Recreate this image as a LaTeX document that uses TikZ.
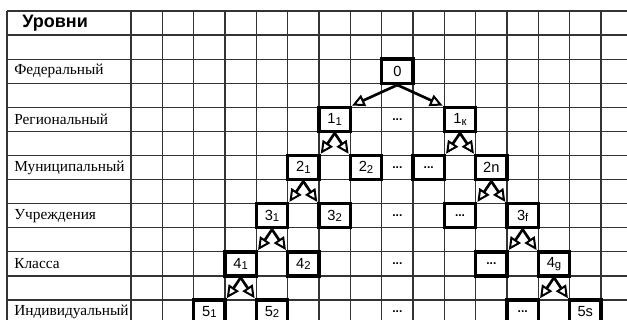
\documentclass[tikz,border=0pt]{standalone}
\usepackage{fontspec}
\setmainfont{Liberation Serif}
\setsansfont{Liberation Sans}
\usetikzlibrary{arrows.meta}
\newcommand{\ix}[1]{{\fontsize{8.5}{9}\selectfont\raisebox{-1pt}{#1}}}

\begin{document}
\begin{tikzpicture}[x=23.5pt, y=-18.06pt, line width=0.5pt,
  gridline/.style={black!80, line width=1pt},
  lvbox/.style={draw, fill=white, line width=2.6pt, minimum width=23.5pt, minimum height=18.06pt,
    inner sep=0pt, font=\sffamily\fontsize{11}{12}\selectfont},
  lvdots/.style={inner sep=0pt, font=\sffamily\bfseries\fontsize{9}{10}\selectfont},
  lvname/.style={anchor=west, inner sep=0pt, font=\fontsize{11.5}{13}\selectfont},
  lvarrow/.style={line width=2pt, -{Triangle[length=9.5pt, width=9pt, fill=white, line width=1.5pt]}}]
  \useasboundingbox (-4.181,-0.457) rectangle (15.83,12.83);
  % grid
  \foreach \r in {0,...,12}
    \draw[gridline] (-3.958,\r) -- (15.83,\r);
  \draw[gridline] (-3.958,0) -- (-3.958,12.83);
  \foreach \c in {0,...,15}
    \draw[gridline] (\c,0) -- (\c,12.83);
  % level names
  \node[lvname, font=\sffamily\bfseries\fontsize{13.5}{14}\selectfont] (head) at (-3.479,0.5) {Уровни};
  \node[lvname] (fed) at (-3.734,2.5) {Федеральный};
  \node[lvname] (reg) at (-3.734,4.5) {Региональный};
  \node[lvname] (mun) at (-3.734,6.5) {Муниципальный};
  \node[lvname] (uch) at (-3.734,8.5) {Учреждения};
  \node[lvname] (kls) at (-3.734,10.5) {Класса};
  \node[lvname] (ind) at (-3.734,12.5) {Индивидуальный};
  % dots column
  \foreach \r in {4,6,8,10,12}
    \node[lvdots] (dots\r) at (8.5,\r+0.5) {...};
  % boxes
  \node[lvbox] (lvl0) at (8.5,2.5) {0};
  \node[lvbox] (r1a) at (6.5,4.5) {1\ix{1}};
  \node[lvbox] (r1k) at (10.5,4.5) {1\ix{к}};
  \node[lvbox] (m2a) at (5.5,6.5) {2\ix{1}};
  \node[lvbox] (m2b) at (7.5,6.5) {2\ix{2}};
  \node[lvbox, font=\sffamily\bfseries\fontsize{9}{10}\selectfont] (m2x) at (9.5,6.5) {...};
  \node[lvbox] (m2n) at (11.5,6.5) {2n};
  \node[lvbox] (u3a) at (4.5,8.5) {3\ix{1}};
  \node[lvbox] (u3b) at (6.5,8.5) {3\ix{2}};
  \node[lvbox, font=\sffamily\bfseries\fontsize{9}{10}\selectfont] (u3x) at (10.5,8.5) {...};
  \node[lvbox] (u3f) at (12.5,8.5) {3\ix{f}};
  \node[lvbox] (k4a) at (3.5,10.5) {4\ix{1}};
  \node[lvbox] (k4b) at (5.5,10.5) {4\ix{2}};
  \node[lvbox, font=\sffamily\bfseries\fontsize{9}{10}\selectfont] (k4x) at (11.5,10.5) {...};
  \node[lvbox] (k4g) at (13.5,10.5) {4\ix{g}};
  \node[lvbox] (i5a) at (2.5,12.5) {5\ix{1}};
  \node[lvbox] (i5b) at (4.5,12.5) {5\ix{2}};
  \node[lvbox, font=\sffamily\bfseries\fontsize{9}{10}\selectfont] (i5x) at (12.5,12.5) {...};
  \node[lvbox] (i5s) at (14.5,12.5) {5s};
  % links
  \draw[lvarrow] (lvl0.south) -- (r1a.north east);
  \draw[lvarrow] (lvl0.south) -- (r1k.north west);
  \draw[lvarrow] (r1a.south) -- (m2a.north east);
  \draw[lvarrow] (r1a.south) -- (m2b.north west);
  \draw[lvarrow] (r1k.south) -- (m2x.north east);
  \draw[lvarrow] (r1k.south) -- (m2n.north west);
  \draw[lvarrow] (m2a.south) -- (u3a.north east);
  \draw[lvarrow] (m2a.south) -- (u3b.north west);
  \draw[lvarrow] (m2n.south) -- (u3x.north east);
  \draw[lvarrow] (m2n.south) -- (u3f.north west);
  \draw[lvarrow] (u3a.south) -- (k4a.north east);
  \draw[lvarrow] (u3a.south) -- (k4b.north west);
  \draw[lvarrow] (u3f.south) -- (k4x.north east);
  \draw[lvarrow] (u3f.south) -- (k4g.north west);
  \draw[lvarrow] (k4a.south) -- (i5a.north east);
  \draw[lvarrow] (k4a.south) -- (i5b.north west);
  \draw[lvarrow] (k4g.south) -- (i5x.north east);
  \draw[lvarrow] (k4g.south) -- (i5s.north west);
\end{tikzpicture}
\end{document}
